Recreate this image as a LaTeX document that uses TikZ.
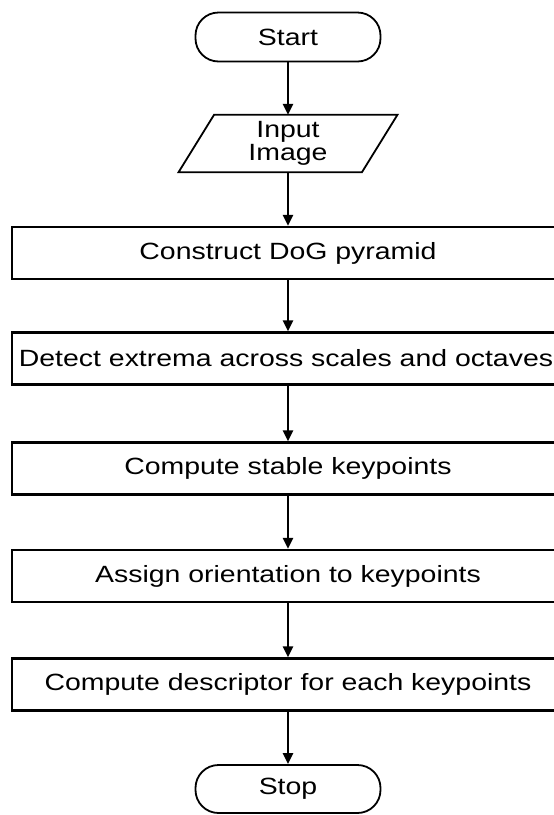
\documentclass[tikz,border=0pt]{standalone}
\usepackage{fontspec}
\setmainfont{Liberation Sans}[FakeStretch=1.21]
\usetikzlibrary{arrows.meta,calc}
\begin{document}
\begin{tikzpicture}[x=1pt,y=-1pt,
  every node/.style={font=\fontsize{23.5}{23.5}\selectfont},
  term/.style={draw, line width=1.8pt, rounded corners=23pt, minimum width=185pt, minimum height=49pt, inner sep=0pt},
  procbox/.style={draw, line width=2.2pt, minimum width=552pt, minimum height=52pt, inner sep=0pt},
  iobox/.style={minimum width=183pt, minimum height=57pt, inner sep=0pt, align=center},
  flow/.style={line width=2.6pt, -{Triangle[length=11pt,width=10pt]}}]
\useasboundingbox (0,0) rectangle (554,815);
\clip (0,0) rectangle (554,815);
\fill[white] (0,0) rectangle (554,815);
\node[term] (start) at (288,37) {Start};
\node[iobox] (in) at (288,143.5) {Input\\Image};
\draw[line width=1.8pt, line join=miter] ($(in.north west)+(17.75,0)$) -- ($(in.north east)+(17.75,0)$)
  -- ($(in.south east)+(-17.75,0)$) -- ($(in.south west)+(-17.75,0)$) -- cycle;
\node[procbox] (b1) at (288,253) {Construct DoG pyramid};
\node[procbox, minimum width=548pt] (b2) at (286,358.5) {Detect extrema across scales and octaves};
\node[procbox] (b3) at (288,468.5) {Compute stable keypoints};
\node[procbox] (b4) at (288,576) {Assign orientation to keypoints};
\node[procbox] (b5) at (288,684.5) {Compute descriptor for each keypoints};
\node[term, minimum height=48pt] (stop) at (288,789) {Stop};
\draw[flow] (start) -- (in);
\draw[flow] (in) -- (b1);
\draw[flow] (b1.south) -- (b1.south |- b2.north);
\draw[flow] (b3.north |- b2.south) -- (b3.north);
\draw[flow] (b3) -- (b4);
\draw[flow] (b4) -- (b5);
\draw[flow] (b5) -- (stop);
\end{tikzpicture}
\end{document}
